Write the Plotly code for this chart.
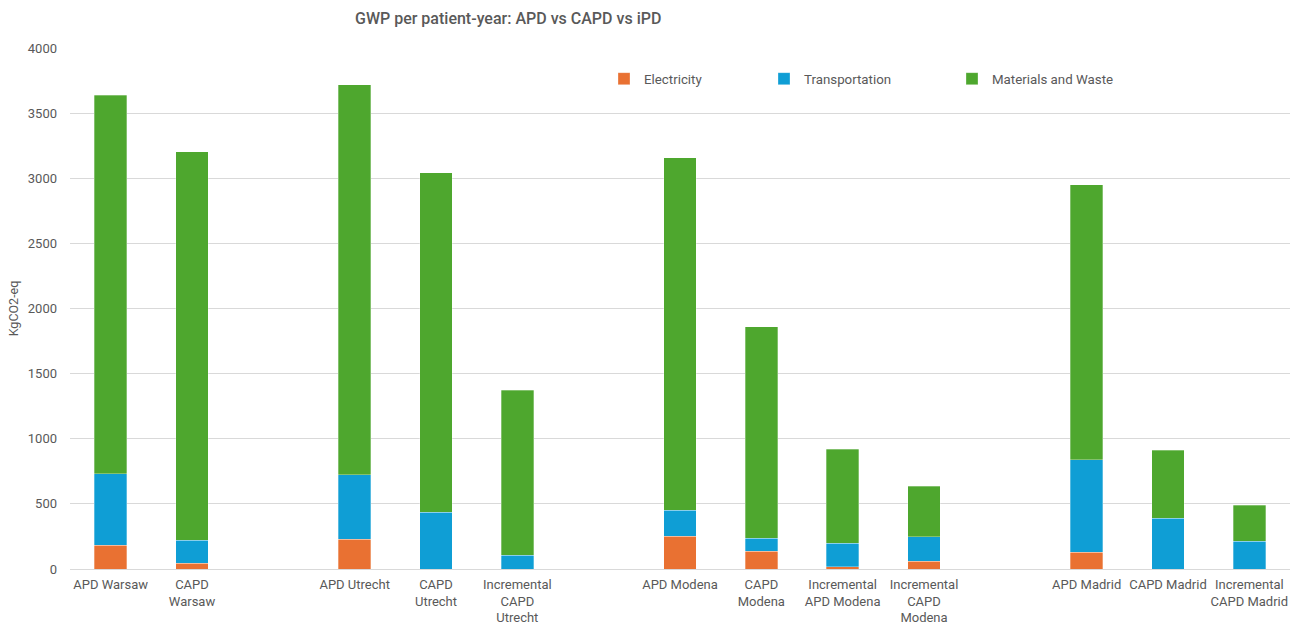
import plotly.graph_objects as go

categories = [
    "APD Warsaw", "CAPD<br>Warsaw", " ",
    "APD Utrecht", "CAPD<br>Utrecht", "Incremental<br>CAPD<br>Utrecht", "  ",
    "APD Modena", "CAPD<br>Modena", "Incremental<br>APD Modena", "Incremental<br>CAPD<br>Modena", "   ",
    "APD Madrid", "CAPD Madrid", "Incremental<br>CAPD Madrid",
]
electricity = [183, 43, None, 230, 0, 0, None, 251, 138, 18, 59, None, 128, 0, 0]
transportation = [550, 177, None, 495, 437, 105, None, 199, 97, 179, 189, None, 710, 391, 212]
materials = [2905, 2983, None, 2991, 2605, 1267, None, 2707, 1625, 723, 388, None, 2112, 521, 276]

series_names = ["Electricity", "Transportation", "Materials and Waste"]
colors = ["#E97132", "#0F9ED5", "#4EA72E"]
legend_ids = ["legend", "legend2", "legend3"]
legend_x = [604, 764, 952]

FONT = "Roboto"
GREY = "#595959"

fig = go.Figure()
for name, vals, col, lid in zip(series_names, [electricity, transportation, materials], colors, legend_ids):
    fig.add_trace(go.Bar(
        x=categories, y=vals, name=name, marker_color=col,
        marker_line=dict(color="rgba(255,255,255,0.6)", width=0.5),
        legend=lid, showlegend=True,
    ))

layout_legends = {}
for lid, lx in zip(legend_ids, legend_x):
    layout_legends[lid] = dict(
        xref="container", yref="container", x=lx / 1295, y=1 - 79 / 626,
        xanchor="left", yanchor="middle", orientation="h",
        font=dict(family=FONT, size=13.3, color=GREY),
        bgcolor="rgba(0,0,0,0)", itemwidth=30, visible=True,
    )

fig.update_layout(
    width=1295, height=626,
    barmode="stack", bargap=0.6, showlegend=True,
    plot_bgcolor="white", paper_bgcolor="white",
    margin=dict(l=70, r=5, t=48, b=57, autoexpand=False),
    font=dict(family=FONT, size=13, color=GREY),
    title=dict(text="GWP per patient-year: APD vs CAPD vs iPD", x=355 / 1295, xanchor="left",
               y=1 - 18 / 626, yanchor="middle",
               font=dict(family=FONT, size=16, color=GREY, weight=500)),
    **layout_legends,
)
fig.update_xaxes(
    categoryorder="array", categoryarray=categories,
    showline=True, linecolor="#D9D9D9", linewidth=1,
    ticks="", tickfont=dict(family=FONT, size=13, color=GREY),
    ticklabelstandoff=3,
    automargin=False, tickangle=0,
)
fig.update_yaxes(
    range=[0, 4000], dtick=500, showgrid=True, gridcolor="#D9D9D9", gridwidth=1,
    zeroline=False, ticks="", ticklabelstandoff=12,
    tickfont=dict(family=FONT, size=13, color=GREY),
    title=dict(text="KgCO2-eq", font=dict(family=FONT, size=12.5, color=GREY), standoff=6),
    automargin=True,
)

fig.write_html("out.html")
